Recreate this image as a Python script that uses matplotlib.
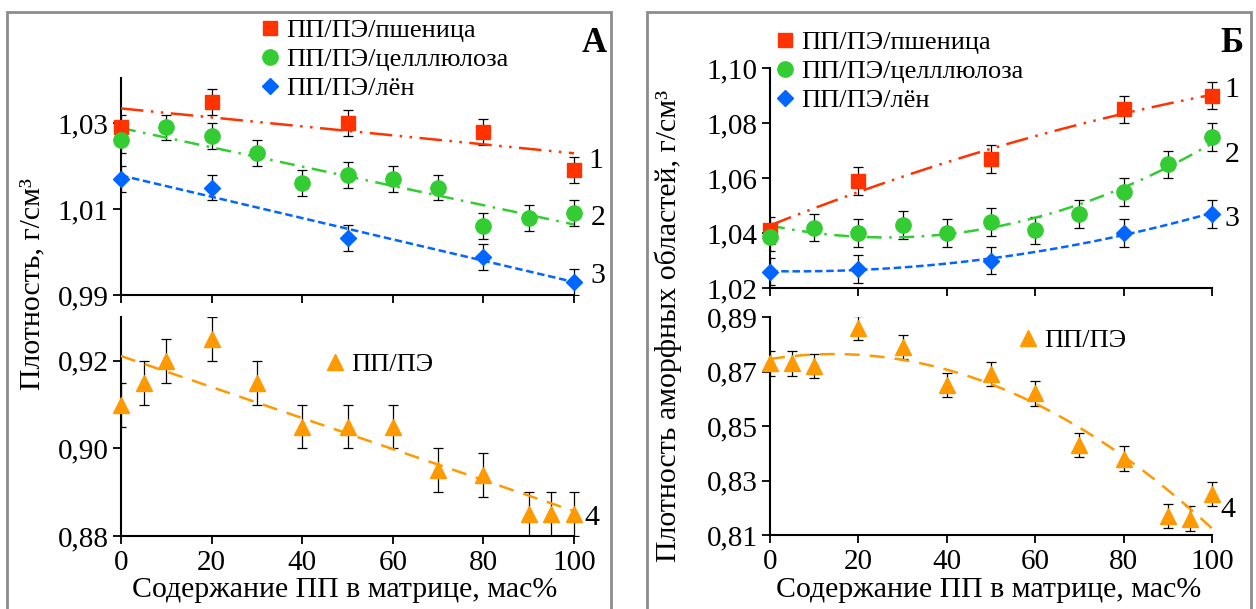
import numpy as np
import matplotlib
matplotlib.use("Agg")
import matplotlib.pyplot as plt
from matplotlib.patches import Rectangle
from matplotlib.ticker import FuncFormatter

plt.rcParams['font.family'] = ['Liberation Serif', 'DejaVu Serif']

W, H = 1256, 609

# ---- data: panel А (плотность) ----
x_a_wheat = [0, 20, 50, 80, 100]
y_a_wheat = [1.029, 1.035, 1.030, 1.028, 1.019]
x_a_cell = [0, 10, 20, 30, 40, 50, 60, 70, 80, 90, 100]
y_a_cell = [1.026, 1.029, 1.027, 1.023, 1.016, 1.018, 1.017, 1.015, 1.006, 1.008, 1.009]
x_a_flax = [0, 20, 50, 80, 100]
y_a_flax = [1.017, 1.015, 1.0033, 0.9988, 0.993]
err_a_up = 0.003

x_pe = [0, 5, 10, 20, 30, 40, 50, 60, 70, 80, 90, 95, 100]
y_a_pe = [0.910, 0.915, 0.920, 0.925, 0.915, 0.905, 0.905, 0.905, 0.895, 0.894, 0.885, 0.885, 0.885]
err_a_pe = 0.005

# ---- data: panel Б (плотность аморфных областей) ----
x_b_wheat = [0, 20, 50, 80, 100]
y_b_wheat = [1.041, 1.059, 1.067, 1.085, 1.090]
x_b_cell = [0, 10, 20, 30, 40, 50, 60, 70, 80, 90, 100]
y_b_cell = [1.0385, 1.042, 1.040, 1.043, 1.040, 1.044, 1.041, 1.047, 1.055, 1.065, 1.075]
x_b_flax = [0, 20, 50, 80, 100]
y_b_flax = [1.026, 1.027, 1.030, 1.040, 1.047]
err_b_up = 0.005

y_b_pe = [0.873, 0.873, 0.872, 0.886, 0.879, 0.865, 0.869, 0.862, 0.843, 0.838, 0.817, 0.816, 0.825]
err_b_pe = 0.0045

lbl_wheat = 'ПП/ПЭ/пшеница'
lbl_cell = 'ПП/ПЭ/целллюлоза'
lbl_flax = 'ПП/ПЭ/лён'
lbl_pe = 'ПП/ПЭ'
xlabel = 'Содержание ПП в матрице, мас%'

c_red, c_green, c_blue, c_orange = '#FF3300', '#33CC33', '#0066FF', '#FF9900'
FS_TICK = 21
FS_LAB = 21.5
FS_LEG = 19

fig = plt.figure(figsize=(W / 100, H / 100), dpi=100)


def pax(x0, x1, ytop, ybot):
    # axes from pixel box; x1 is where x=100 falls
    w = (x1 - x0) * 1.04
    return fig.add_axes([x0 / W, 1 - ybot / H, w / W, (ybot - ytop) / H])


def fx(x, y):
    return x / W, 1 - y / H


comma = FuncFormatter(lambda v, p: ('%.2f' % v).replace('.', ','))


def style(ax, ylim, yticks, labels):
    ax.set_xlim(0, 104)
    ax.set_ylim(*ylim)
    ax.set_yticks(yticks)
    ax.set_xticks(range(0, 101, 20))
    ax.yaxis.set_major_formatter(comma)
    for s in ['top', 'right']:
        ax.spines[s].set_visible(False)
    for s in ['left', 'bottom']:
        ax.spines[s].set_linewidth(1.5)
    ax.spines['bottom'].set_bounds(0, 100)
    ax.tick_params(direction='out', length=6, width=1.3, labelsize=FS_TICK, pad=3)
    ax.tick_params(axis='x', pad=4)
    if not labels:
        ax.tick_params(axis='x', labelbottom=False)


def series(ax, x, y, err, color, marker, ms, dash, deg, label=None):
    ax.errorbar(x, y, yerr=err, fmt='none', ecolor='black', elinewidth=0.9,
                capsize=3.5, capthick=0.9, zorder=2)
    xx = np.linspace(0, 100, 200)
    coef = np.polyfit(x, y, deg)
    ax.plot(xx, np.polyval(coef, xx), color=color, lw=1.8, dashes=dash, zorder=3)
    h, = ax.plot(x, y, ls='none', marker=marker, ms=ms, color=color,
                 mec=color, clip_on=False, zorder=4, label=label)
    return h


dd_red = (9, 3, 1, 3, 1, 3)
dd_green = (6, 3, 1, 3)
dd_blue = (3, 1.5)
dd_orange = (6, 4)

# ---- panel А ----
ax1 = pax(121, 574, 78, 295)
h1 = series(ax1, x_a_wheat, y_a_wheat, err_a_up, c_red, 's', 9.5, dd_red, 1, lbl_wheat)
h2 = series(ax1, x_a_cell, y_a_cell, err_a_up, c_green, 'o', 11, dd_green, 1, lbl_cell)
h3 = series(ax1, x_a_flax, y_a_flax, err_a_up, c_blue, 'D', 8.5, dd_blue, 1, lbl_flax)
style(ax1, (0.99, 1.0405), [0.99, 1.01, 1.03], False)

ax2 = pax(121, 574, 317, 536)
h4 = series(ax2, x_pe, y_a_pe, err_a_pe, c_orange, '^', 11, dd_orange, 1, lbl_pe)
style(ax2, (0.88, 0.93), [0.88, 0.90, 0.92], True)

# ---- panel Б ----
ax3 = pax(770, 1212, 68, 288)
g1 = series(ax3, x_b_wheat, y_b_wheat, err_b_up, c_red, 's', 9.5, dd_red, 2, lbl_wheat)
g2 = series(ax3, x_b_cell, y_b_cell, err_b_up, c_green, 'o', 11, dd_green, 2, lbl_cell)
g3 = series(ax3, x_b_flax, y_b_flax, err_b_up, c_blue, 'D', 8.5, dd_blue, 2, lbl_flax)
style(ax3, (1.02, 1.10), [1.02, 1.04, 1.06, 1.08, 1.10], False)

ax4 = pax(770, 1212, 317, 535)
g4 = series(ax4, x_pe, y_b_pe, err_b_pe, c_orange, '^', 11, dd_orange, 2, lbl_pe)
style(ax4, (0.81, 0.89), [0.81, 0.83, 0.85, 0.87, 0.89], True)

# ---- legends ----
leg_kw = dict(frameon=False, fontsize=FS_LEG, handlelength=0.6, handletextpad=0.3,
              borderpad=0, labelspacing=0.2, borderaxespad=0, loc='upper left',
              bbox_transform=fig.transFigure)
fig.legend(handles=[h1, h2, h3], bbox_to_anchor=fx(262, 19), **leg_kw)
fig.legend(handles=[h4], bbox_to_anchor=fx(327, 353), **leg_kw)
fig.legend(handles=[g1, g2, g3], bbox_to_anchor=fx(777, 31), **leg_kw)
fig.legend(handles=[g4], bbox_to_anchor=fx(1020, 329), **leg_kw)

# ---- texts ----
fig.text(*fx(32, 284), 'Плотность, г/см³', rotation=90, ha='center', va='center', fontsize=FS_LAB)
fig.text(*fx(668, 326), 'Плотность аморфных областей, г/см³', rotation=90,
         ha='center', va='center', fontsize=FS_LAB)
fig.text(*fx(345, 590), xlabel, ha='center', va='center', fontsize=FS_LAB)
fig.text(*fx(989, 590), xlabel, ha='center', va='center', fontsize=FS_LAB)
fig.text(*fx(594, 43), 'А', ha='center', va='center', fontsize=25, fontweight='bold')
fig.text(*fx(1232, 43), 'Б', ha='center', va='center', fontsize=25, fontweight='bold')

for s, x, y in [('1', 596, 161), ('2', 598, 218), ('3', 598, 276), ('4', 592, 518),
                ('1', 1232, 90), ('2', 1232, 155), ('3', 1232, 219), ('4', 1228, 510)]:
    fig.text(*fx(x, y), s, ha='center', va='center', fontsize=FS_LAB)

# ---- panel frames ----
for x0, x1 in [(7, 611), (647, 1251)]:
    fig.add_artist(Rectangle(fx(x0, 640), (x1 - x0) / W, (640 - 12) / H,
                             transform=fig.transFigure, fill=False,
                             edgecolor='#8c8c8c', lw=2))

fig.savefig('out.png', dpi=100)
